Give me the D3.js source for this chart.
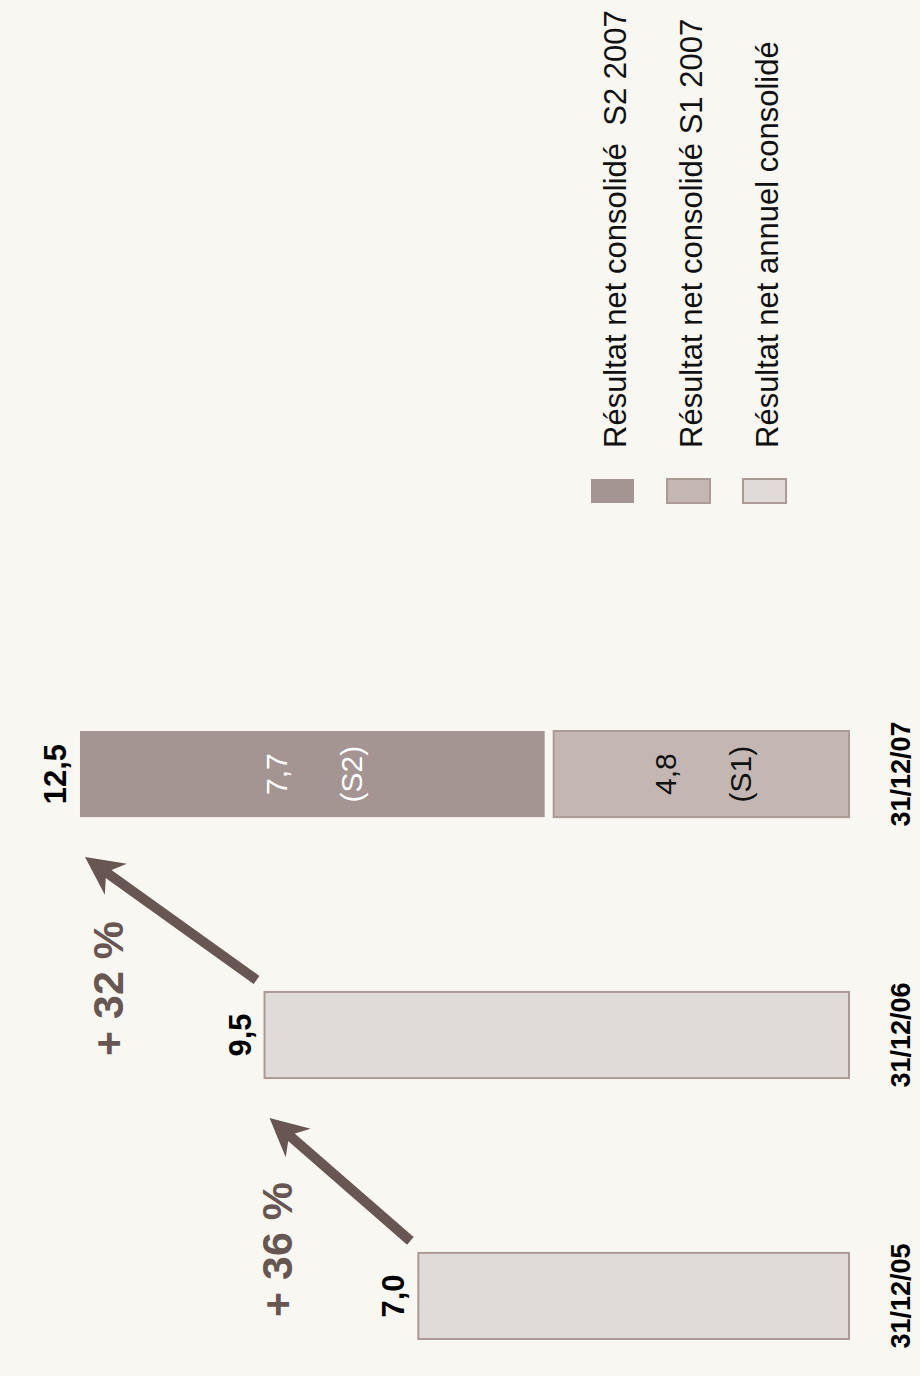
<!DOCTYPE html>
<html>
  <head>
    <meta charset="utf-8">
    <title>Résultat net consolidé</title>
    <style>
      body { margin: 0; background: #f8f7f1; }
      svg { display: block; font-family: "Liberation Sans", Arial, Helvetica, sans-serif; }
    </style>
  </head>
  <body>
    <div class="chart-area"></div>

    <script src="https://d3js.org/d3.v7.min.js"></script>
    <script>
      // data (millions, french decimals)
      var dates = ["31/12/05", "31/12/06", "31/12/07"];
      var annual = [7.0, 9.5, null];     // résultat net annuel consolidé
      var s1 = [null, null, 4.8];        // S1 2007
      var s2 = [null, null, 7.7];        // S2 2007
      var totals = [7.0, 9.5, 12.5];
      var legendLabels = [
        "Résultat net consolidé  S2 2007",
        "Résultat net consolidé S1 2007",
        "Résultat net annuel consolidé"
      ];
      var legendKeys = ["s2", "s1", "annual"];

      var colors = { s2: "#a59592", s1: "#c4b7b3", annual: "#e0dbd8" };
      var edge = "#ab9a95";
      var arrowColor = "#675652";

      var W = 920, H = 1376;
      var svg = d3.select(".chart-area")
        .append("svg")
          .attr("width", W)
          .attr("height", H);

      svg.append("rect").attr("width", W).attr("height", H).attr("fill", "#f8f7f1");

      // the whole chart is printed turned a quarter to the left
      var g = svg.append("g")
        .attr("transform", "translate(0," + H + ") rotate(-90)");

      var x = d3.scaleBand()
        .domain(dates)
        .range([37, 645])
        .paddingInner(0.67)
        .paddingOuter(0);
      var bw = x.bandwidth();

      var y = d3.scaleLinear()
        .domain([0, 13.8])
        .range([849, 0]);

      var fmt = function(v) { return v.toFixed(1).replace(".", ","); };

      // annual bars
      g.append("g")
        .selectAll("rect")
        .data(dates.filter(function(d, i) { return annual[i] != null; }))
        .enter().append("rect")
          .attr("x", function(d) { return x(d); })
          .attr("y", function(d) { return y(annual[dates.indexOf(d)]); })
          .attr("width", bw)
          .attr("height", function(d) { return y(0) - y(annual[dates.indexOf(d)]); })
          .attr("fill", colors.annual)
          .attr("stroke", edge)
          .attr("stroke-width", 2);

      // stacked 2007 bar: S1 at the base, S2 above, small gap between
      var gap = 9;
      dates.forEach(function(d, i) {
        if (s1[i] == null) return;
        var cx = x(d) + bw / 2;
        g.append("rect")
          .attr("x", x(d)).attr("y", y(s1[i]))
          .attr("width", bw).attr("height", y(0) - y(s1[i]))
          .attr("fill", colors.s1).attr("stroke", edge).attr("stroke-width", 2);
        g.append("rect")
          .attr("x", x(d)).attr("y", y(s1[i] + s2[i]))
          .attr("width", bw).attr("height", y(s1[i]) - y(s1[i] + s2[i]) - gap)
          .attr("fill", colors.s2);

        var m1 = (y(0) + y(s1[i])) / 2;
        var m2 = (y(s1[i]) - gap + y(s1[i] + s2[i])) / 2;
        [[m1, fmt(s1[i]), "(S1)", "#111"], [m2, fmt(s2[i]), "(S2)", "#fff"]].forEach(function(t) {
          g.append("text").attr("x", cx).attr("y", t[0] - 25)
            .attr("text-anchor", "middle").attr("font-size", 30).attr("fill", t[3]).text(t[1]);
          g.append("text").attr("x", cx).attr("y", t[0] + 50)
            .attr("text-anchor", "middle").attr("font-size", 30).attr("fill", t[3]).text(t[2]);
        });
      });

      // totals above the bars
      g.append("g")
        .selectAll("text")
        .data(dates)
        .enter().append("text")
          .attr("x", function(d) { return x(d) + bw / 2; })
          .attr("y", function(d, i) { return y(totals[i]) - 14; })
          .attr("text-anchor", "middle")
          .attr("font-size", 31)
          .attr("font-weight", "bold")
          .attr("fill", "#000")
          .text(function(d, i) { return fmt(totals[i]); });

      // date axis
      var axis = g.append("g")
        .attr("transform", "translate(0," + y(0) + ")")
        .call(d3.axisBottom(x).tickSize(0).tickPadding(42));
      axis.select(".domain").remove();
      axis.selectAll("text")
        .attr("font-size", 27)
        .attr("font-weight", "bold")
        .attr("font-family", "Liberation Sans, Arial, sans-serif")
        .attr("fill", "#000");

      // growth arrows between consecutive bars
      function arrow(x0, y0, x1, y1) {
        var dx = x1 - x0, dy = y1 - y0, len = Math.sqrt(dx * dx + dy * dy);
        var ux = dx / len, uy = dy / len, px = -uy, py = ux;
        var headL = 38, headW = 19, notch = 26;
        g.append("line")
          .attr("x1", x0).attr("y1", y0)
          .attr("x2", x1 - ux * notch).attr("y2", y1 - uy * notch)
          .attr("stroke", arrowColor).attr("stroke-width", 10);
        var pts = [
          [x1, y1],
          [x1 - ux * headL + px * headW, y1 - uy * headL + py * headW],
          [x1 - ux * notch, y1 - uy * notch],
          [x1 - ux * headL - px * headW, y1 - uy * headL - py * headW]
        ];
        g.append("path").attr("d", "M" + pts.join("L") + "Z").attr("fill", arrowColor);
      }

      for (var i = 0; i < dates.length - 1; i++) {
        var ax0 = x(dates[i]) + bw + 12, ay0 = y(totals[i]) - 8;
        var ax1 = x(dates[i + 1]) - 40, ay1 = y(totals[i + 1]) + 5;
        arrow(ax0, ay0, ax1, ay1);
        var pct = Math.round((totals[i + 1] / totals[i] - 1) * 100);
        g.append("text")
          .attr("x", (ax0 + ax1) / 2 - 70)
          .attr("y", (ay0 + ay1) / 2 - 48)
          .attr("text-anchor", "middle")
          .attr("font-size", 43)
          .attr("font-weight", "bold")
          .attr("fill", arrowColor)
          .text("+ " + pct + " %");
      }

      // legend
      var legend = g.append("g")
        .selectAll("g")
        .data(legendKeys)
        .enter().append("g")
          .attr("transform", function(d, i) { return "translate(0," + (626 + i * 76) + ")"; });
      legend.append("rect")
        .attr("x", 873).attr("y", -35)
        .attr("width", 24).attr("height", 43)
        .attr("fill", function(d) { return colors[d]; })
        .attr("stroke", function(d) { return d == "s2" ? "none" : edge; })
        .attr("stroke-width", 2);
      legend.append("text")
        .attr("x", 928).attr("y", 0)
        .attr("font-size", 31)
        .attr("fill", "#111")
        .style("white-space", "pre")
        .text(function(d, i) { return legendLabels[i]; });
    </script>
  </body>
</html>
